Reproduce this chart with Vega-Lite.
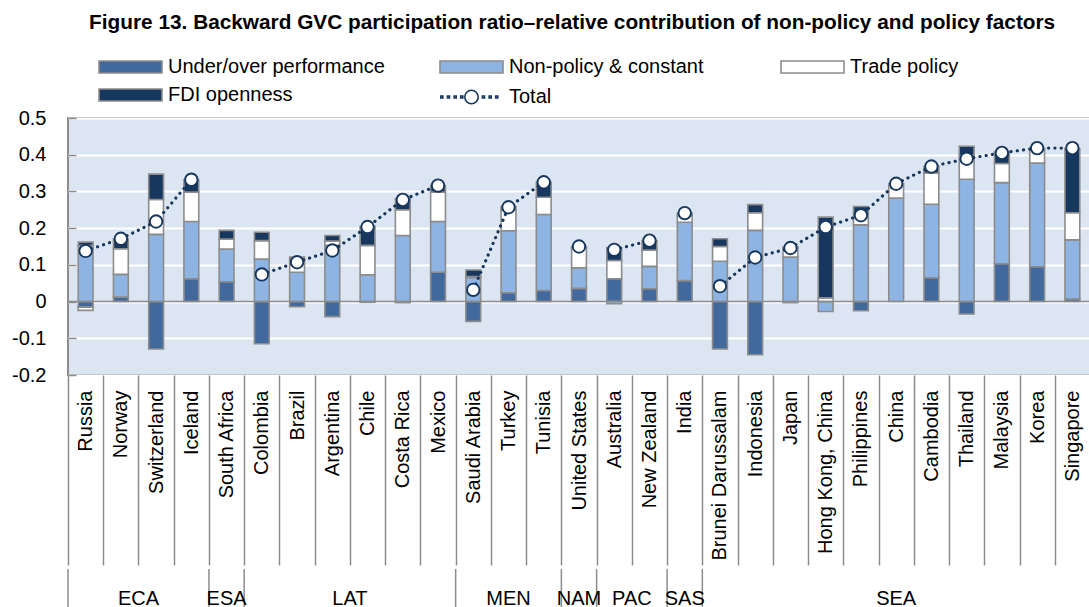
{
  "$schema": "https://vega.github.io/schema/vega-lite/v6.json",
  "background": "white",
  "padding": {"left": 10, "top": 12, "right": 0, "bottom": 0},
  "config": {
    "font": "Liberation Sans",
    "view": {"continuousWidth": 300},
    "axisY": {
      "title": null, "values": [-0.2, -0.1, 0, 0.1, 0.2, 0.3, 0.4, 0.5], "labelExpr": "toString(datum.value)",
      "labelFont": "Liberation Sans", "labelFontSize": 20, "labelColor": "black",
      "grid": true, "gridColor": "white", "gridWidth": 2, "domain": false,
      "ticks": true, "tickSize": -8, "tickColor": "#8C8C8C", "tickWidth": 1.5, "labelPadding": 30
    }
  },
  "title": {
    "text": "Figure 13. Backward GVC participation ratio–relative contribution of non-policy and policy factors",
    "font": "Liberation Sans",
    "fontSize": 20.8,
    "fontWeight": "bold",
    "color": "black",
    "anchor": "middle",
    "dx": 21,
    "offset": 23
  },
  "datasets": {
    "bars": [
      {"country": "Russia", "region": "ECA", "component": "Under/over performance", "value": -0.015},
      {"country": "Russia", "region": "ECA", "component": "Non-policy & constant", "value": 0.153},
      {"country": "Russia", "region": "ECA", "component": "Trade policy", "value": -0.009},
      {"country": "Russia", "region": "ECA", "component": "FDI openness", "value": 0.009},
      {"country": "Norway", "region": "ECA", "component": "Under/over performance", "value": 0.012},
      {"country": "Norway", "region": "ECA", "component": "Non-policy & constant", "value": 0.062},
      {"country": "Norway", "region": "ECA", "component": "Trade policy", "value": 0.070},
      {"country": "Norway", "region": "ECA", "component": "FDI openness", "value": 0.027},
      {"country": "Switzerland", "region": "ECA", "component": "Under/over performance", "value": -0.129},
      {"country": "Switzerland", "region": "ECA", "component": "Non-policy & constant", "value": 0.183},
      {"country": "Switzerland", "region": "ECA", "component": "Trade policy", "value": 0.095},
      {"country": "Switzerland", "region": "ECA", "component": "FDI openness", "value": 0.069},
      {"country": "Iceland", "region": "ECA", "component": "Under/over performance", "value": 0.062},
      {"country": "Iceland", "region": "ECA", "component": "Non-policy & constant", "value": 0.156},
      {"country": "Iceland", "region": "ECA", "component": "Trade policy", "value": 0.080},
      {"country": "Iceland", "region": "ECA", "component": "FDI openness", "value": 0.034},
      {"country": "South Africa", "region": "ESA", "component": "Under/over performance", "value": 0.054},
      {"country": "South Africa", "region": "ESA", "component": "Non-policy & constant", "value": 0.089},
      {"country": "South Africa", "region": "ESA", "component": "Trade policy", "value": 0.027},
      {"country": "South Africa", "region": "ESA", "component": "FDI openness", "value": 0.024},
      {"country": "Colombia", "region": "LAT", "component": "Under/over performance", "value": -0.115},
      {"country": "Colombia", "region": "LAT", "component": "Non-policy & constant", "value": 0.116},
      {"country": "Colombia", "region": "LAT", "component": "Trade policy", "value": 0.050},
      {"country": "Colombia", "region": "LAT", "component": "FDI openness", "value": 0.023},
      {"country": "Brazil", "region": "LAT", "component": "Under/over performance", "value": -0.014},
      {"country": "Brazil", "region": "LAT", "component": "Non-policy & constant", "value": 0.080},
      {"country": "Brazil", "region": "LAT", "component": "Trade policy", "value": 0.035},
      {"country": "Brazil", "region": "LAT", "component": "FDI openness", "value": 0.006},
      {"country": "Argentina", "region": "LAT", "component": "Under/over performance", "value": -0.041},
      {"country": "Argentina", "region": "LAT", "component": "Non-policy & constant", "value": 0.153},
      {"country": "Argentina", "region": "LAT", "component": "Trade policy", "value": 0.012},
      {"country": "Argentina", "region": "LAT", "component": "FDI openness", "value": 0.015},
      {"country": "Chile", "region": "LAT", "component": "Under/over performance", "value": -0.002},
      {"country": "Chile", "region": "LAT", "component": "Non-policy & constant", "value": 0.073},
      {"country": "Chile", "region": "LAT", "component": "Trade policy", "value": 0.080},
      {"country": "Chile", "region": "LAT", "component": "FDI openness", "value": 0.052},
      {"country": "Costa Rica", "region": "LAT", "component": "Under/over performance", "value": -0.003},
      {"country": "Costa Rica", "region": "LAT", "component": "Non-policy & constant", "value": 0.180},
      {"country": "Costa Rica", "region": "LAT", "component": "Trade policy", "value": 0.070},
      {"country": "Costa Rica", "region": "LAT", "component": "FDI openness", "value": 0.030},
      {"country": "Mexico", "region": "LAT", "component": "Under/over performance", "value": 0.080},
      {"country": "Mexico", "region": "LAT", "component": "Non-policy & constant", "value": 0.138},
      {"country": "Mexico", "region": "LAT", "component": "Trade policy", "value": 0.080},
      {"country": "Mexico", "region": "LAT", "component": "FDI openness", "value": 0.018},
      {"country": "Saudi Arabia", "region": "MEN", "component": "Under/over performance", "value": -0.054},
      {"country": "Saudi Arabia", "region": "MEN", "component": "Non-policy & constant", "value": 0.066},
      {"country": "Saudi Arabia", "region": "MEN", "component": "Trade policy", "value": 0.002},
      {"country": "Saudi Arabia", "region": "MEN", "component": "FDI openness", "value": 0.018},
      {"country": "Turkey", "region": "MEN", "component": "Under/over performance", "value": 0.024},
      {"country": "Turkey", "region": "MEN", "component": "Non-policy & constant", "value": 0.169},
      {"country": "Turkey", "region": "MEN", "component": "Trade policy", "value": 0.056},
      {"country": "Turkey", "region": "MEN", "component": "FDI openness", "value": 0.009},
      {"country": "Tunisia", "region": "MEN", "component": "Under/over performance", "value": 0.030},
      {"country": "Tunisia", "region": "MEN", "component": "Non-policy & constant", "value": 0.207},
      {"country": "Tunisia", "region": "MEN", "component": "Trade policy", "value": 0.047},
      {"country": "Tunisia", "region": "MEN", "component": "FDI openness", "value": 0.041},
      {"country": "United States", "region": "NAM", "component": "Under/over performance", "value": 0.036},
      {"country": "United States", "region": "NAM", "component": "Non-policy & constant", "value": 0.056},
      {"country": "United States", "region": "NAM", "component": "Trade policy", "value": 0.055},
      {"country": "United States", "region": "NAM", "component": "FDI openness", "value": 0.003},
      {"country": "Australia", "region": "PAC", "component": "Under/over performance", "value": 0.062},
      {"country": "Australia", "region": "PAC", "component": "Non-policy & constant", "value": -0.006},
      {"country": "Australia", "region": "PAC", "component": "Trade policy", "value": 0.050},
      {"country": "Australia", "region": "PAC", "component": "FDI openness", "value": 0.035},
      {"country": "New Zealand", "region": "PAC", "component": "Under/over performance", "value": 0.035},
      {"country": "New Zealand", "region": "PAC", "component": "Non-policy & constant", "value": 0.061},
      {"country": "New Zealand", "region": "PAC", "component": "Trade policy", "value": 0.044},
      {"country": "New Zealand", "region": "PAC", "component": "FDI openness", "value": 0.026},
      {"country": "India", "region": "SAS", "component": "Under/over performance", "value": 0.057},
      {"country": "India", "region": "SAS", "component": "Non-policy & constant", "value": 0.159},
      {"country": "India", "region": "SAS", "component": "Trade policy", "value": 0.018},
      {"country": "India", "region": "SAS", "component": "FDI openness", "value": 0.007},
      {"country": "Brunei Darussalam", "region": "SEA", "component": "Under/over performance", "value": -0.129},
      {"country": "Brunei Darussalam", "region": "SEA", "component": "Non-policy & constant", "value": 0.110},
      {"country": "Brunei Darussalam", "region": "SEA", "component": "Trade policy", "value": 0.040},
      {"country": "Brunei Darussalam", "region": "SEA", "component": "FDI openness", "value": 0.021},
      {"country": "Indonesia", "region": "SEA", "component": "Under/over performance", "value": -0.145},
      {"country": "Indonesia", "region": "SEA", "component": "Non-policy & constant", "value": 0.194},
      {"country": "Indonesia", "region": "SEA", "component": "Trade policy", "value": 0.048},
      {"country": "Indonesia", "region": "SEA", "component": "FDI openness", "value": 0.022},
      {"country": "Japan", "region": "SEA", "component": "Under/over performance", "value": -0.003},
      {"country": "Japan", "region": "SEA", "component": "Non-policy & constant", "value": 0.121},
      {"country": "Japan", "region": "SEA", "component": "Trade policy", "value": 0.025},
      {"country": "Japan", "region": "SEA", "component": "FDI openness", "value": 0.003},
      {"country": "Hong Kong, China", "region": "SEA", "component": "Non-policy & constant", "value": -0.027},
      {"country": "Hong Kong, China", "region": "SEA", "component": "Trade policy", "value": 0.010},
      {"country": "Hong Kong, China", "region": "SEA", "component": "FDI openness", "value": 0.220},
      {"country": "Philippines", "region": "SEA", "component": "Under/over performance", "value": -0.025},
      {"country": "Philippines", "region": "SEA", "component": "Non-policy & constant", "value": 0.209},
      {"country": "Philippines", "region": "SEA", "component": "Trade policy", "value": 0.030},
      {"country": "Philippines", "region": "SEA", "component": "FDI openness", "value": 0.020},
      {"country": "China", "region": "SEA", "component": "Non-policy & constant", "value": 0.282},
      {"country": "China", "region": "SEA", "component": "Trade policy", "value": 0.039},
      {"country": "Cambodia", "region": "SEA", "component": "Under/over performance", "value": 0.065},
      {"country": "Cambodia", "region": "SEA", "component": "Non-policy & constant", "value": 0.200},
      {"country": "Cambodia", "region": "SEA", "component": "Trade policy", "value": 0.085},
      {"country": "Cambodia", "region": "SEA", "component": "FDI openness", "value": 0.018},
      {"country": "Thailand", "region": "SEA", "component": "Under/over performance", "value": -0.034},
      {"country": "Thailand", "region": "SEA", "component": "Non-policy & constant", "value": 0.333},
      {"country": "Thailand", "region": "SEA", "component": "Trade policy", "value": 0.065},
      {"country": "Thailand", "region": "SEA", "component": "FDI openness", "value": 0.025},
      {"country": "Malaysia", "region": "SEA", "component": "Under/over performance", "value": 0.103},
      {"country": "Malaysia", "region": "SEA", "component": "Non-policy & constant", "value": 0.221},
      {"country": "Malaysia", "region": "SEA", "component": "Trade policy", "value": 0.052},
      {"country": "Malaysia", "region": "SEA", "component": "FDI openness", "value": 0.032},
      {"country": "Korea", "region": "SEA", "component": "Under/over performance", "value": 0.095},
      {"country": "Korea", "region": "SEA", "component": "Non-policy & constant", "value": 0.282},
      {"country": "Korea", "region": "SEA", "component": "Trade policy", "value": 0.035},
      {"country": "Korea", "region": "SEA", "component": "FDI openness", "value": 0.006},
      {"country": "Singapore", "region": "SEA", "component": "Under/over performance", "value": 0.007},
      {"country": "Singapore", "region": "SEA", "component": "Non-policy & constant", "value": 0.161},
      {"country": "Singapore", "region": "SEA", "component": "Trade policy", "value": 0.074},
      {"country": "Singapore", "region": "SEA", "component": "FDI openness", "value": 0.175}
    ],
    "totals": [
      {"country": "Russia", "region": "ECA", "total": 0.138},
      {"country": "Norway", "region": "ECA", "total": 0.171},
      {"country": "Switzerland", "region": "ECA", "total": 0.218},
      {"country": "Iceland", "region": "ECA", "total": 0.332},
      {"country": "Colombia", "region": "LAT", "total": 0.074},
      {"country": "Brazil", "region": "LAT", "total": 0.107},
      {"country": "Argentina", "region": "LAT", "total": 0.139},
      {"country": "Chile", "region": "LAT", "total": 0.203},
      {"country": "Costa Rica", "region": "LAT", "total": 0.277},
      {"country": "Mexico", "region": "LAT", "total": 0.316},
      {"country": "Saudi Arabia", "region": "MEN", "total": 0.032},
      {"country": "Turkey", "region": "MEN", "total": 0.257},
      {"country": "Tunisia", "region": "MEN", "total": 0.325},
      {"country": "United States", "region": "NAM", "total": 0.150},
      {"country": "Australia", "region": "PAC", "total": 0.141},
      {"country": "New Zealand", "region": "PAC", "total": 0.166},
      {"country": "India", "region": "SAS", "total": 0.241},
      {"country": "Brunei Darussalam", "region": "SEA", "total": 0.042},
      {"country": "Indonesia", "region": "SEA", "total": 0.120},
      {"country": "Japan", "region": "SEA", "total": 0.146},
      {"country": "Hong Kong, China", "region": "SEA", "total": 0.203},
      {"country": "Philippines", "region": "SEA", "total": 0.235},
      {"country": "China", "region": "SEA", "total": 0.321},
      {"country": "Cambodia", "region": "SEA", "total": 0.368},
      {"country": "Thailand", "region": "SEA", "total": 0.389},
      {"country": "Malaysia", "region": "SEA", "total": 0.405},
      {"country": "Korea", "region": "SEA", "total": 0.418},
      {"country": "Singapore", "region": "SEA", "total": 0.418}
    ],
    "groups": [
      {"region": "ECA", "first": "Russia", "anchor": "Norway"},
      {"region": "ESA", "first": "South Africa", "anchor": "South Africa"},
      {"region": "LAT", "first": "Colombia", "anchor": "Argentina"},
      {"region": "MEN", "first": "Saudi Arabia", "anchor": "Turkey"},
      {"region": "NAM", "first": "United States", "anchor": "United States"},
      {"region": "PAC", "first": "Australia", "anchor": "Australia"},
      {"region": "SAS", "first": "India", "anchor": "India"},
      {"region": "SEA", "first": "Brunei Darussalam", "anchor": "China"}
    ]
  },
  "spacing": 0,
  "vconcat": [
    {
      "width": 1022,
      "height": 257,
      "view": {"fill": "#DCE6F2", "stroke": "#8C8C8C", "strokeWidth": 2},
      "layer": [
        {
          "data": {"name": "bars"},
          "transform": [
            {"calculate": "indexof(['Under/over performance', 'Non-policy & constant', 'Trade policy', 'FDI openness'], datum.component)", "as": "stackOrder"}
          ],
          "mark": {"type": "bar", "width": {"band": 0.42}, "stroke": "#8C8C8C", "strokeWidth": 1.6},
          "encoding": {
            "x": {
              "field": "country", "type": "nominal",
              "scale": {"domain": ["Russia", "Norway", "Switzerland", "Iceland", "South Africa", "Colombia", "Brazil", "Argentina", "Chile", "Costa Rica", "Mexico", "Saudi Arabia", "Turkey", "Tunisia", "United States", "Australia", "New Zealand", "India", "Brunei Darussalam", "Indonesia", "Japan", "Hong Kong, China", "Philippines", "China", "Cambodia", "Thailand", "Malaysia", "Korea", "Singapore"], "paddingInner": 0, "paddingOuter": 0},
              "axis": {
                "title": null, "labelAngle": -90, "labelFont": "Liberation Sans", "labelFontSize": 20, "labelColor": "black",
                "tickBand": "extent", "tickSize": 190, "tickColor": "#8C8C8C", "tickWidth": 1.5,
                "labelPadding": -175, "domain": false, "labelAlign": "right", "labelBaseline": "middle"
              }
            },
            "y": {
              "field": "value", "type": "quantitative", "stack": "zero",
              "scale": {"domain": [-0.2, 0.5], "nice": false}
            },
            "order": {"field": "stackOrder", "type": "quantitative", "sort": "ascending"},
            "color": {
              "field": "component", "type": "nominal",
              "scale": {
                "domain": ["Under/over performance", "Non-policy & constant", "Trade policy", "FDI openness"],
                "range": ["#41699E", "#8EB4E3", "#FFFFFF", "#17375E"]
              },
              "legend": {
                "title": null, "orient": "none", "legendX": 28, "legendY": -61,
                "columns": 3, "direction": "horizontal", "gridAlign": "all", "columnPadding": 51, "rowPadding": 8,
                "labelFont": "Liberation Sans", "labelFontSize": 20, "labelColor": "black", "labelLimit": 400,
                "symbolSize": 196, "labelOffset": 52, "symbolStrokeWidth": 1.6, "symbolOpacity": 1,
                "symbolType": "M-1,-0.86H8V0.86H-1Z", "symbolStrokeColor": "#8C8C8C"
              }
            }
          }
        },
        {
          "data": {"values": [{}]},
          "mark": {"type": "rule", "color": "#8C8C8C", "strokeWidth": 1.5},
          "encoding": {"y": {"datum": 0}}
        },
        {
          "data": {"name": "totals"},
          "mark": {"type": "line", "color": "#17375E", "strokeWidth": 3.2, "strokeDash": [0.1, 6.2], "strokeCap": "round"},
          "encoding": {
            "x": {"field": "country", "type": "nominal"},
            "y": {"field": "total", "type": "quantitative"},
            "detail": {"field": "region"}
          }
        },
        {
          "data": {"name": "totals"},
          "mark": {"type": "point", "shape": "circle", "filled": false, "fill": "white", "strokeWidth": 1.9, "size": 155, "opacity": 1},
          "encoding": {
            "x": {"field": "country", "type": "nominal"},
            "y": {"field": "total", "type": "quantitative"},
            "stroke": {
              "datum": "Total", "type": "nominal",
              "scale": {"domain": ["Total"], "range": ["#17375E"]},
              "legend": {
                "title": null, "orient": "none", "legendX": 369, "legendY": -31,
                "labelFont": "Liberation Sans", "labelFontSize": 20, "labelColor": "black",
                "symbolSize": 196, "labelOffset": 52, "symbolStrokeWidth": 1.6, "symbolOpacity": 1,
                "symbolFillColor": "white",
                "symbolType": "M-0.89,-0.15h0.3v0.3h-0.3z M0.06,-0.15h0.3v0.3h-0.3z M1.02,-0.15h0.3v0.3h-0.3z M1.96,-0.15h0.3v0.3h-0.3z M4.46,0A0.96,0.96 0 1,1 2.54,0A0.96,0.96 0 1,1 4.46,0Z M5.06,-0.15h0.3v0.3h-0.3z M6.02,-0.15h0.3v0.3h-0.3z M6.96,-0.15h0.3v0.3h-0.3z"
              }
            }
          }
        }
      ]
    },
    {
      "width": 1022,
      "height": 40,
      "view": {"stroke": "transparent", "fill": "transparent"},
      "data": {"name": "groups"},
      "layer": [
        {
          "mark": {"type": "rule", "color": "#8C8C8C", "strokeWidth": 1.5},
          "encoding": {
            "x": {"field": "first", "type": "nominal", "bandPosition": 0,
              "scale": {"domain": ["Russia", "Norway", "Switzerland", "Iceland", "South Africa", "Colombia", "Brazil", "Argentina", "Chile", "Costa Rica", "Mexico", "Saudi Arabia", "Turkey", "Tunisia", "United States", "Australia", "New Zealand", "India", "Brunei Darussalam", "Indonesia", "Japan", "Hong Kong, China", "Philippines", "China", "Cambodia", "Thailand", "Malaysia", "Korea", "Singapore"], "paddingInner": 0, "paddingOuter": 0},
              "axis": null}
          }
        },
        {
          "transform": [{"filter": "indexof(['ECA', 'LAT', 'PAC'], datum.region) >= 0"}],
          "mark": {"type": "text", "font": "Liberation Sans", "fontSize": 20, "color": "black", "baseline": "bottom", "align": "center"},
          "encoding": {
            "x": {"field": "anchor", "type": "nominal", "bandPosition": 1},
            "y": {"value": "height"},
            "text": {"field": "region"}
          }
        },
        {
          "transform": [{"filter": "indexof(['ECA', 'LAT', 'PAC'], datum.region) < 0"}],
          "mark": {"type": "text", "font": "Liberation Sans", "fontSize": 20, "color": "black", "baseline": "bottom", "align": "center"},
          "encoding": {
            "x": {"field": "anchor", "type": "nominal", "bandPosition": 0.5},
            "y": {"value": "height"},
            "text": {"field": "region"}
          }
        }
      ]
    }
  ]
}
